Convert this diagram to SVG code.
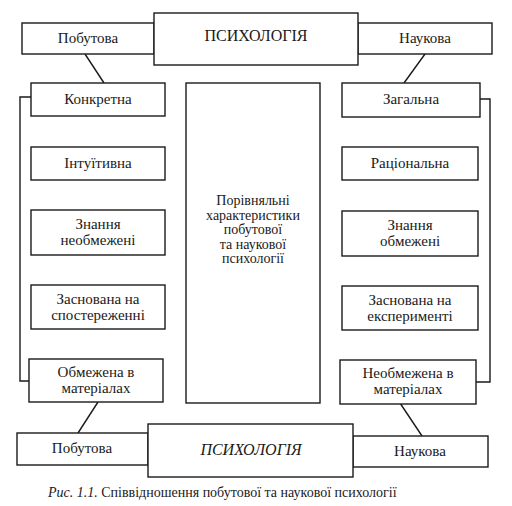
<svg xmlns="http://www.w3.org/2000/svg" width="512" height="506" viewBox="0 0 512 506" font-family="'Liberation Serif', 'Times New Roman', 'DejaVu Serif', serif">
<style>
.b{fill:#fff;stroke:#1a1a1a;stroke-width:1.4}
.l{fill:none;stroke:#1a1a1a;stroke-width:1.4}
text{font-size:15px;fill:#1a1a1a;text-anchor:middle}
.big{font-size:16px}
.it{font-style:italic}
.c{font-size:14px}
.cap{font-size:14px;text-anchor:start}
</style>
<rect width="512" height="506" fill="#fff"/>
<g id="connectors">
<line class="l" x1="85" y1="54" x2="104" y2="83"/>
<line class="l" x1="425" y1="54" x2="404" y2="83"/>
<line class="l" x1="98" y1="402" x2="78" y2="433"/>
<line class="l" x1="400" y1="403" x2="422" y2="436"/>
<polyline class="l" points="31,97 20,97 20,381 29,381"/>
<polyline class="l" points="480,99 490,99 490,382 476,382"/>
</g>
<g id="top-pobutova"><rect class="b" x="22" y="23" width="132" height="31"/><text x="88" y="43">Побутова</text></g>
<g id="top-naukova"><rect class="b" x="358" y="23" width="134" height="31"/><text x="425" y="43">Наукова</text></g>
<g id="top-psychology"><rect class="b" x="154" y="13" width="204" height="52"/><text class="big" x="256" y="41">ПСИХОЛОГІЯ</text></g>
<g id="konkretna"><rect class="b" x="31" y="83" width="134" height="33"/><text x="98" y="104">Конкретна</text></g>
<g id="intuityvna"><rect class="b" x="31" y="147" width="134" height="33"/><text x="98" y="168">Інтуїтивна</text></g>
<g id="znannia-neobmezheni"><rect class="b" x="31" y="210" width="134" height="45"/><text x="98" y="229">Знання</text><text x="98" y="245">необмежені</text></g>
<g id="zasnovana-sposterezhenni"><rect class="b" x="31" y="285" width="134" height="44"/><text x="98" y="304">Заснована на</text><text x="98" y="320">спостереженні</text></g>
<g id="obmezhena"><rect class="b" x="29" y="359" width="134" height="43"/><text x="96" y="377">Обмежена в</text><text x="96" y="393">матеріалах</text></g>
<g id="zahalna"><rect class="b" x="342" y="83" width="138" height="34"/><text x="411" y="104">Загальна</text></g>
<g id="ratsionalna"><rect class="b" x="342" y="147" width="136" height="33"/><text x="410" y="168">Раціональна</text></g>
<g id="znannia-obmezheni"><rect class="b" x="342" y="211" width="136" height="45"/><text x="410" y="230">Знання</text><text x="410" y="246">обмежені</text></g>
<g id="zasnovana-eksperymenti"><rect class="b" x="342" y="286" width="136" height="44"/><text x="410" y="305">Заснована на</text><text x="410" y="321">експерименті</text></g>
<g id="neobmezhena"><rect class="b" x="340" y="360" width="136" height="44"/><text x="408" y="378">Необмежена в</text><text x="408" y="394">матеріалах</text></g>
<g id="center"><rect class="b" x="186" y="83" width="134" height="320"/>
<text class="c" x="253" y="205">Порівняльні</text><text class="c" x="253" y="219.5">характеристики</text><text class="c" x="253" y="234">побутової</text><text class="c" x="253" y="248.5">та наукової</text><text class="c" x="253" y="263">психології</text></g>
<g id="bottom-pobutova"><rect class="b" x="17" y="433" width="131" height="32"/><text x="82" y="453">Побутова</text></g>
<g id="bottom-naukova"><rect class="b" x="353" y="436" width="135" height="31"/><text x="420" y="456">Наукова</text></g>
<g id="bottom-psychology"><rect class="b" x="148" y="424" width="205" height="53"/><text class="big it" x="251" y="455">ПСИХОЛОГІЯ</text></g>
<text class="cap" x="48" y="497"><tspan font-style="italic">Рис. 1.1.</tspan> Співвідношення побутової та наукової психології</text>
</svg>
